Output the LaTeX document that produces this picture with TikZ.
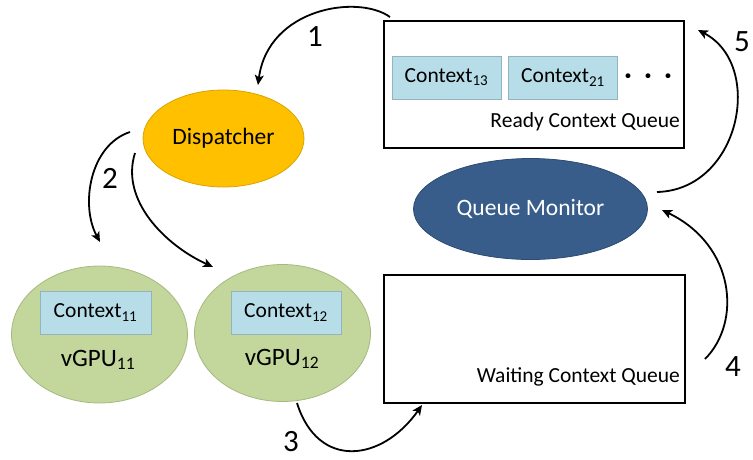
\documentclass[tikz,border=0pt]{standalone}
\usepackage{fontspec}
\setmainfont{Carlito}
\usetikzlibrary{shapes.geometric,arrows.meta}
\definecolor{ctxfill}{HTML}{B7DEE8}
\definecolor{ctxborder}{HTML}{93B3BD}
\definecolor{dispfill}{HTML}{FFC000}
\definecolor{dispborder}{HTML}{D9A300}
\definecolor{monfill}{HTML}{385D8A}
\definecolor{monborder}{HTML}{2C4B70}
\definecolor{gpufill}{HTML}{C3D69B}
\definecolor{gpuborder}{HTML}{A6BA80}
\begin{document}
\begin{tikzpicture}[x=1pt,y=-1pt,
  queuebox/.style={draw=black,line width=1.8pt,fill=white,inner sep=0pt},
  ctxbox/.style={draw=ctxborder,fill=ctxfill,line width=0.9pt,minimum width=109pt,minimum height=43pt,inner sep=0pt,font=\fontsize{21.5}{25}\selectfont},
  qlabel/.style={anchor=east,inner sep=0pt,font=\fontsize{21.5}{25}\selectfont},
  gpu/.style={ellipse,draw=gpuborder,fill=gpufill,line width=0.8pt,minimum width=176pt,minimum height=137pt,inner sep=0pt},
  gpulabel/.style={inner sep=0pt,font=\fontsize{25}{30}\selectfont},
  num/.style={inner sep=0pt,font=\fontsize{31}{36}\selectfont},
  flow/.style={line width=1.8pt,-{Stealth[length=10pt,width=9pt,inset=2.5pt]}}
]
\useasboundingbox (0,0) rectangle (753,459);

% queues
\node[queuebox,minimum width=300pt,minimum height=127pt] (rq) at (534,84.5) {};
\node[queuebox,minimum width=301pt,minimum height=128pt] (wq) at (534.5,339) {};
\node[qlabel] (rqlab) at (680,122) {Ready Context Queue};
\node[qlabel] (wqlab) at (680,377) {Waiting Context Queue};
\node[ctxbox] (c13) at (446.5,77.5) {Context\textsubscript{13}};
\node[ctxbox] (c21) at (563,77.5) {Context\textsubscript{21}};
\node[inner sep=0pt,font=\fontsize{26}{30}\selectfont\bfseries] (dots) at (648,79) {·\hspace{13pt}·\hspace{13pt}·};

% ellipses
\node[ellipse,draw=monborder,fill=monfill,line width=0.8pt,minimum width=234pt,minimum height=101pt,inner sep=0pt,text=white,font=\fontsize{23.5}{28}\selectfont] (mon) at (530.5,209) {Queue Monitor};
\node[ellipse,draw=dispborder,fill=dispfill,line width=0.8pt,minimum width=161pt,minimum height=97pt,inner sep=0pt,font=\fontsize{23.5}{28}\selectfont] (disp) at (223.5,138.5) {Dispatcher};
\node[gpu] (g11) at (99.5,334.5) {};
\node[gpu] (g12) at (282.5,333) {};
\node[ctxbox,minimum width=111pt] (c11) at (95.5,312.5) {Context\textsubscript{11}};
\node[ctxbox,minimum width=110pt] (c12) at (286,312.5) {Context\textsubscript{12}};
\node[gpulabel] (l11) at (98,360) {vGPU\textsubscript{11}};
\node[gpulabel] (l12) at (282,359) {vGPU\textsubscript{12}};

% connector end points
\coordinate (a1s) at (390,17);
\coordinate (a1e) at (258,85);
\coordinate (a2s) at (130,132);
\coordinate (a2e) at (100,242);
\coordinate (b2s) at (135,153);
\coordinate (b2e) at (213,267);
\coordinate (a3s) at (297,403);
\coordinate (a3e) at (422,405);
\coordinate (a4s) at (705,359);
\coordinate (a4e) at (662,210);
\coordinate (a5s) at (657,192);
\coordinate (a5e) at (698,30);

\draw[flow] (a1s) .. controls (358,-6) and (268,8) .. (a1e);
\draw[flow] (a2s) .. controls (90,145) and (80,205) .. (a2e);
\draw[flow] (b2s) .. controls (120,200) and (165,245) .. (b2e);
\draw[flow] (a3s) .. controls (318,470) and (382,462) .. (a3e);
\draw[flow] (a4s) .. controls (742,322) and (735,245) .. (a4e);
\draw[flow] (a5s) .. controls (740,190) and (765,65) .. (a5e);

% numbers
\node[num] (n1) at (315,37) {1};
\node[num] (n2) at (110,178) {2};
\node[num] (n3) at (291,442) {3};
\node[num] (n4) at (733,367) {4};
\node[num] (n5) at (742,42) {5};
\end{tikzpicture}
\end{document}
